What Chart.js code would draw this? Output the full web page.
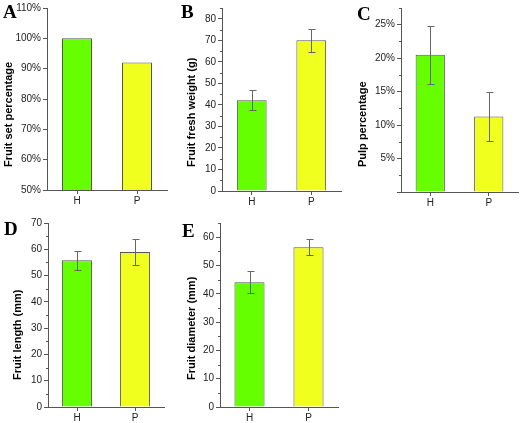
<!DOCTYPE html>
<html>
<head>
<meta charset="utf-8">
<script src="https://cdn.jsdelivr.net/npm/chart.js@4"></script>
<style>
  body { margin: 0; background: #fff; }
  #wrap { position: relative; width: 520px; height: 423px; overflow: hidden; }
  #wrap canvas { position: absolute; }
  .tag { position: absolute; font: bold 19px "Liberation Serif", serif; line-height: 19px; color: #000; }
</style>
</head>
<body>
<div id="wrap">
  <canvas id="cA" style="left:0;top:0"></canvas>
  <canvas id="cB" style="left:170px;top:0"></canvas>
  <canvas id="cC" style="left:345px;top:0"></canvas>
  <canvas id="cD" style="left:0;top:210px"></canvas>
  <canvas id="cE" style="left:170px;top:210px"></canvas>
  <div class="tag" style="left:3px;top:2px">A</div>
  <div class="tag" style="left:181px;top:2px">B</div>
  <div class="tag" style="left:357px;top:4px">C</div>
  <div class="tag" style="left:4px;top:219px">D</div>
  <div class="tag" style="left:182px;top:221px">E</div>
</div>
<script>
// === Data ===
const groups = ["H", "P"];
const fruitSet = [100, 92];               // %
const freshWeight = [42.2, 70.0];         // g
const freshWeightErr = [4.5, 5.3];
const pulp = [20.5, 11.3];                // %
const pulpErr = [4.3, 3.7];
const fruitLength = [55.8, 59.0];         // mm
const fruitLengthErr = [3.7, 5.0];
const fruitDiameter = [44.1, 56.4];       // mm
const fruitDiameterErr = [4.0, 2.8];

const barColors = ["#66ff00", "#f0ff1e"];
const axisColor = "#555";
const tickFont = { family: "Liberation Sans, Arial, sans-serif", size: 10 };

// === Error bars drawn on top of the bars ===
const errorBars = {
  id: "errorBars",
  afterDatasetsDraw(chart, args, opts) {
    if (!opts.errors) return;
    const c = chart.ctx, y = chart.scales.y;
    const meta = chart.getDatasetMeta(0);
    const vals = chart.data.datasets[0].data;
    c.save();
    c.strokeStyle = "#666";
    c.lineWidth = 1;
    meta.data.forEach((bar, i) => {
      const x = Math.round(bar.x) + 0.5;
      const top = Math.round(y.getPixelForValue(vals[i] + opts.errors[i])) + 0.5;
      const bot = Math.round(y.getPixelForValue(vals[i] - opts.errors[i])) + 0.5;
      c.beginPath();
      c.moveTo(x, top); c.lineTo(x, bot);
      c.moveTo(x - 3, top); c.lineTo(x + 4, top);
      c.moveTo(x - 3, bot); c.lineTo(x + 4, bot);
      c.stroke();
    });
    c.restore();
  }
};

// === Minor ticks and rotated axis title ===
const axisExtras = {
  id: "axisExtras",
  afterDraw(chart, args, opts) {
    const c = chart.ctx, y = chart.scales.y, left = chart.chartArea.left;
    c.save();
    c.strokeStyle = axisColor;
    c.lineWidth = 1;
    if (opts.minor) {
      for (let v = y.min; v <= y.max + 1e-9; v += opts.minor) {
        if (Math.abs(v / opts.major - Math.round(v / opts.major)) < 1e-6) continue;
        const py = Math.round(y.getPixelForValue(v)) + 0.5;
        c.beginPath();
        c.moveTo(left - 2, py); c.lineTo(left, py);
        c.stroke();
      }
    }
    c.translate(opts.titleX, opts.titleY);
    c.rotate(-Math.PI / 2);
    c.font = "bold 11px Liberation Sans, Arial, sans-serif";
    c.fillStyle = "#000";
    c.textAlign = "left";
    c.textBaseline = "middle";
    c.fillText(opts.title, 0, 0);
    c.restore();
  }
};

function makePanel(id, p) {
  const cv = document.getElementById(id);
  cv.width = p.w; cv.height = p.h;
  cv.style.width = p.w + "px"; cv.style.height = p.h + "px";
  return new Chart(cv, {
    type: "bar",
    data: {
      labels: groups,
      datasets: [{
        data: p.values,
        backgroundColor: barColors,
        borderColor: "#555",
        borderWidth: 1,
        barPercentage: p.barPct,
        categoryPercentage: 1
      }]
    },
    options: {
      responsive: false,
      animation: false,
      devicePixelRatio: 1,
      layout: { padding: { top: p.top, right: p.right, left: 0, bottom: 0 } },
      plugins: {
        legend: { display: false },
        tooltip: { enabled: false },
        errorBars: { errors: p.errors },
        axisExtras: { minor: p.minor, major: p.step, title: p.title, titleX: p.titleX, titleY: p.titleY }
      },
      scales: {
        x: {
          afterFit: s => { s.height = p.xh; },
          border: { color: axisColor, width: 1 },
          grid: { offset: false, drawOnChartArea: false, tickLength: 4, color: axisColor },
          ticks: { font: tickFont, color: "#222", padding: 1 }
        },
        y: {
          min: p.min,
          max: p.max,
          afterFit: s => { s.width = p.yw; },
          border: { color: axisColor, width: 1 },
          grid: { drawOnChartArea: false, tickLength: 4, color: axisColor },
          ticks: {
            stepSize: p.step,
            includeBounds: false,
            font: tickFont,
            color: "#222",
            padding: 2,
            callback: p.fmt
          }
        }
      }
    },
    plugins: [errorBars, axisExtras]
  });
}

makePanel("cA", {
  w: 170, h: 210, yw: 47, xh: 20, top: 5, right: 3, barPct: 0.5,
  values: fruitSet, errors: null, min: 50, max: 110, step: 10, minor: null,
  fmt: v => v + "%", title: "Fruit set percentage", titleX: 9, titleY: 167
});
makePanel("cB", {
  w: 175, h: 210, yw: 52, xh: 19, top: 7, right: 4, barPct: 0.5,
  values: freshWeight, errors: freshWeightErr, min: 0, max: 85, step: 10, minor: 5,
  fmt: v => v, title: "Fruit fresh weight (g)", titleX: 22, titleY: 167
});
makePanel("cC", {
  w: 175, h: 210, yw: 56, xh: 18, top: 7, right: 2, barPct: 0.5,
  values: pulp, errors: pulpErr, min: 0, max: 27.5, step: 5, minor: 2.5,
  fmt: v => (v === 0 ? "" : v + "%"), title: "Pulp percentage", titleX: 18, titleY: 167
});
makePanel("cD", {
  w: 170, h: 213, yw: 48, xh: 16, top: 13, right: 6, barPct: 0.52,
  values: fruitLength, errors: fruitLengthErr, min: 0, max: 70, step: 10, minor: 5,
  fmt: v => v, title: "Fruit length (mm)", titleX: 18, titleY: 170
});
makePanel("cE", {
  w: 175, h: 213, yw: 50, xh: 16, top: 13, right: 7, barPct: 0.51,
  values: fruitDiameter, errors: fruitDiameterErr, min: 0, max: 65, step: 10, minor: 5,
  fmt: v => v, title: "Fruit diameter (mm)", titleX: 22, titleY: 170
});
</script>
</body>
</html>
